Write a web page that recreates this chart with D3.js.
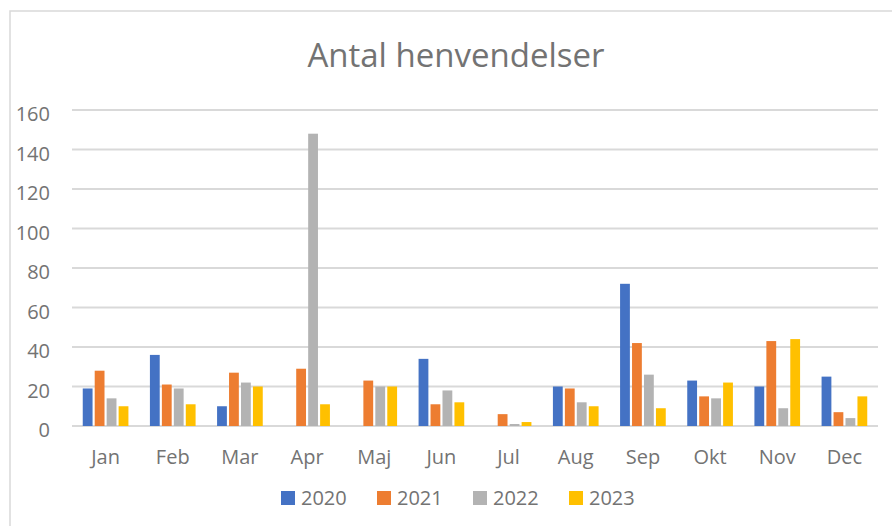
<!DOCTYPE html>
<html>
<head>
<meta charset="UTF-8">
<title>Antal henvendelser</title>
<script src="https://d3js.org/d3.v7.min.js"></script>
<style>
body { margin: 0; background: #fff; }
text { font-family: "Open Sans", sans-serif; fill: #737373; }
</style>
</head>
<body>
<svg id="chart"></svg>
<script>

/* Data */
var months = ['Jan', 'Feb', 'Mar', 'Apr', 'Maj', 'Jun', 'Jul', 'Aug', 'Sep', 'Okt', 'Nov', 'Dec']
var years = ['2020', '2021', '2022', '2023']
var v2020 = [19, 36, 10, 0, 0, 34, 0, 20, 72, 23, 20, 25]
var v2021 = [28, 21, 27, 29, 23, 11, 6, 19, 42, 15, 43, 7]
var v2022 = [14, 19, 22, 148, 20, 18, 1, 12, 26, 14, 9, 4]
var v2023 = [10, 11, 20, 11, 20, 12, 2, 10, 9, 22, 44, 15]
var yTicks = [0, 20, 40, 60, 80, 100, 120, 140, 160]
var colors = ['#4472c4', '#ed7d31', '#b3b3b3', '#ffc000']

var series = [v2020, v2021, v2022, v2023]

var W = 892, H = 526
// plot area (note: "top" is reserved on window, so use p* names)
var pLeft = 72, pRight = 878, pTop = 110, pBottom = 426

var svg = d3.select('#chart').attr('width', W).attr('height', H)

/* chart frame, runs off the right and bottom edges */
svg.append('rect')
	.attr('x', 10).attr('y', 11)
	.attr('width', W + 20).attr('height', H + 20)
	.style('fill', '#fff')
	.style('stroke', '#d9d9d9')
	.style('stroke-width', 1.5)

var x = d3.scaleBand().domain(months).range([pLeft, pRight]).paddingInner(0.32).paddingOuter(0.16)
var xs = d3.scaleBand().domain(years).range([0, x.bandwidth()]).paddingInner(0.18)
var y = d3.scaleLinear().domain([0, 160]).range([pBottom, pTop])

/* gridlines */
svg.append('g').selectAll('line')
	.data(yTicks)
	.enter()
	.append('line')
	.attr('x1', pLeft).attr('x2', pRight)
	.attr('y1', function(d) { return y(d) })
	.attr('y2', function(d) { return y(d) })
	.style('stroke', '#d9d9d9')
	.style('stroke-width', 2)

/* y labels */
svg.append('g').selectAll('text')
	.data(yTicks)
	.enter()
	.append('text')
	.attr('x', 50)
	.attr('y', function(d) { return y(d) + 11 })
	.attr('text-anchor', 'end')
	.style('font-size', '20px')
	.text(function(d) { return d })

/* bars */
var groups = svg.append('g').selectAll('g')
	.data(months)
	.enter()
	.append('g')
	.attr('transform', function(d) { return 'translate(' + x(d) + ',0)' })

groups.selectAll('rect')
	.data(function(m, i) { return series.map(function(s, k) { return { year: years[k], v: s[i], c: colors[k] } }) })
	.enter()
	.append('rect')
	.filter(function(d) { return d.v > 0 })
	.attr('x', function(d) { return xs(d.year) })
	.attr('width', xs.bandwidth())
	.attr('y', function(d) { return y(d.v) })
	.attr('height', function(d) { return y(0) - y(d.v) })
	.style('fill', function(d) { return d.c })

/* x labels */
svg.append('g').selectAll('text')
	.data(months)
	.enter()
	.append('text')
	.attr('x', function(d) { return x(d) + x.bandwidth() / 2 })
	.attr('y', 464)
	.attr('text-anchor', 'middle')
	.style('font-size', '20px')
	.text(function(d) { return d })

/* title */
svg.append('text')
	.attr('x', 456).attr('y', 67)
	.attr('text-anchor', 'middle')
	.style('font-size', '33px')
	.text('Antal henvendelser')

/* legend */
var legend = svg.append('g').selectAll('g')
	.data(years)
	.enter()
	.append('g')
	.attr('transform', function(d, i) { return 'translate(' + (281 + i * 96) + ',491)' })
legend.append('rect')
	.attr('width', 14).attr('height', 14)
	.style('fill', function(d, i) { return colors[i] })
legend.append('text')
	.attr('x', 20).attr('y', 14)
	.style('font-size', '20px')
	.text(function(d) { return d })

</script>
</body>
</html>
